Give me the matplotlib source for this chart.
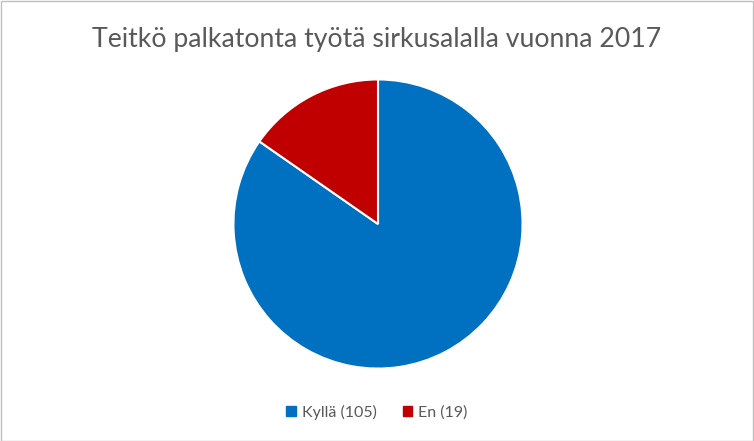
import matplotlib.pyplot as plt
from matplotlib.patches import Rectangle

labels = ["Kyllä", "En"]
counts = [105, 19]
colors = ["#0070C0", "#C00000"]
title = "Teitkö palkatonta työtä sirkusalalla vuonna 2017"

plt.rcParams["font.family"] = ["Lato", "DejaVu Sans"]

W, H = 754, 441
fig = plt.figure(figsize=(W / 100, H / 100), dpi=100)
fig.patch.set_facecolor("white")

# pie centre ~ (378, 224) px, radius ~146 px
cx, cy, r = 378, 224, 146
ax = fig.add_axes([(cx - r) / W, (H - cy - r) / H, 2 * r / W, 2 * r / H])
wedges, _ = ax.pie(counts, colors=colors, startangle=90, counterclock=False,
                   radius=1, wedgeprops=dict(edgecolor="white", linewidth=1.5))
ax.set_xlim(-1.01, 1.01)
ax.set_ylim(-1.01, 1.01)
ax.set_aspect("equal")
ax.axis("off")

fig.text(0.5, 1 - 40 / H, title, ha="center", va="center",
         fontsize=19.2, color="#595959")

leg_labels = [f"{l} ({c})" for l, c in zip(labels, counts)]
handles = [Rectangle((0, 0), 1, 1, color=c) for c in colors]
fig.legend(handles, leg_labels, loc="center", bbox_to_anchor=(0.5, 1 - 412 / H),
           ncol=2, frameon=False, fontsize=11.5, labelcolor="#595959",
           handlelength=0.6, handleheight=0.6, handletextpad=0.4, columnspacing=1.6)

# thin grey frame round the chart area
fig.add_artist(Rectangle((0.5 / W, 0.5 / H), 1 - 1.5 / W, 1 - 1.5 / H,
                         transform=fig.transFigure, fill=False,
                         edgecolor="#BFBFBF", linewidth=1))

fig.savefig("out.png", dpi=100)
